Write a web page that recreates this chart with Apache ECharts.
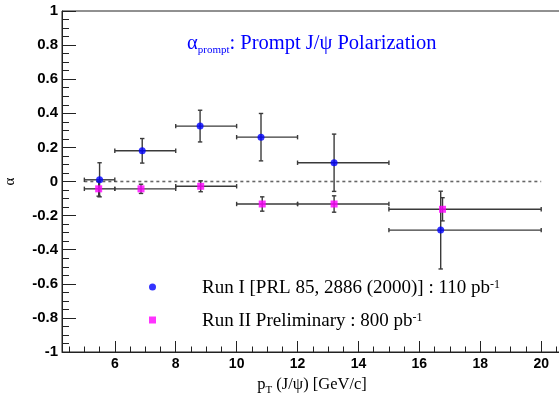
<!DOCTYPE html>
<html>
<head>
<meta charset="utf-8">
<script src="https://cdn.jsdelivr.net/npm/echarts@6/dist/echarts.min.js"></script>
<style>html,body{margin:0;padding:0;background:#fff;}#c{width:559px;height:394px;}</style>
</head>
<body>
<div id="c"></div>
<script>
// ---- data ----
const run1X    = [5.5, 6.9, 8.8, 10.8, 13.2, 16.7];
const run1XLo  = [5, 6, 8, 10, 12, 15];
const run1XHi  = [6, 8, 10, 12, 15, 20];
const run1Y    = [0.01, 0.18, 0.325, 0.26, 0.11, -0.285];
const run1Err  = [0.10, 0.072, 0.093, 0.139, 0.168, 0.228];

const run2X    = [5.47, 6.86, 8.82, 10.84, 13.2, 16.76];
const run2XLo  = [5, 6, 8, 10, 12, 15];
const run2XHi  = [6, 8, 10, 12, 15, 20];
const run2Y    = [-0.043, -0.043, -0.028, -0.132, -0.132, -0.163];
const run2Err  = [0.043, 0.027, 0.032, 0.042, 0.048, 0.068];

const zeroLineX = [5, 20];
const run1Name = 'Run I [PRL 85, 2886 (2000)] : 110 pb';
const run2Name = 'Run II Preliminary : 800 pb';
const supText = '-1';

const xMin = 4.266, xMax = 20.683;

function errRows(xs, lo, hi, ys, es) {
  return xs.map((x, i) => [lo[i], hi[i], x, ys[i], ys[i] - es[i], ys[i] + es[i]]);
}

function renderErr(params, api) {
  const xlo = api.value(0), xhi = api.value(1), x = api.value(2), y = api.value(3);
  const ylo = api.value(4), yhi = api.value(5);
  const pL = api.coord([xlo, y]), pR = api.coord([xhi, y]);
  const pB = api.coord([x, ylo]), pT = api.coord([x, yhi]);
  const c = 2.2;
  const st = { stroke: '#3a3a3a', lineWidth: 1.4 };
  const seg = (x1, y1, x2, y2) => ({ type: 'line', shape: { x1, y1, x2, y2 }, style: st });
  return {
    type: 'group',
    children: [
      seg(pL[0], pL[1], pR[0], pR[1]),
      seg(pL[0], pL[1] - c, pL[0], pL[1] + c),
      seg(pR[0], pR[1] - c, pR[0], pR[1] + c),
      seg(pB[0], pB[1], pT[0], pT[1]),
      seg(pB[0] - c, pB[1], pB[0] + c, pB[1]),
      seg(pT[0] - c, pT[1], pT[0] + c, pT[1])
    ]
  };
}

const chart = echarts.init(document.getElementById('c'), null, { renderer: 'canvas' });
const sansBold = { fontFamily: 'Liberation Sans', fontWeight: 'bold', fontSize: 14, color: '#000' };
const serif = 'Liberation Serif';

chart.setOption({
  animation: false,
  backgroundColor: '#fff',
  grid: { left: 62, top: 11, width: 500, height: 341, show: true, borderColor: '#222', borderWidth: 1, containLabel: false, outerBoundsMode: 'none' },
  title: {
    text: '{a|α}{sub|prompt}{a|: Prompt J/ψ Polarization}',
    left: 182, top: 28,
    textStyle: {
      fontWeight: 'normal',
      rich: {
        a: { fontFamily: serif, fontWeight: 'normal', fontSize: 20.5, color: '#0000ff', lineHeight: 23, verticalAlign: 'top' },
        sub: { fontFamily: serif, fontWeight: 'normal', fontSize: 11, color: '#0000ff', lineHeight: 11, padding: [12, 0, 0, 0], verticalAlign: 'top' }
      }
    }
  },
  legend: {
    orient: 'vertical', left: 144, top: 271, itemGap: 11,
    itemWidth: 7, itemHeight: 7,
    data: [run1Name, run2Name],
    formatter: n => '{t|' + n + '}{s|' + supText + '}',
    textStyle: {
      rich: {
        t: { fontFamily: serif, fontSize: 19, color: '#000', lineHeight: 22, padding: [3, 0, 0, 41], verticalAlign: 'top' },
        s: { fontFamily: serif, fontSize: 12, color: '#000', lineHeight: 12, padding: [3, 0, 0, 0], verticalAlign: 'top' }
      }
    }
  },
  xAxis: [
    {
      type: 'value', min: xMin, max: xMax, minInterval: 2, maxInterval: 2,
      splitLine: { show: false },
      axisLine: { show: true, onZero: false, lineStyle: { color: '#222', width: 1 } },
      axisTick: { show: true, inside: true, length: 11, lineStyle: { color: '#222' } },
      axisLabel: Object.assign({ margin: 5, formatter: v => (Math.abs(v - Math.round(v)) < 1e-6 && Math.round(v) % 2 === 0) ? String(Math.round(v)) : '' }, sansBold),
      name: '{p|p}{t|T}{p| (J/ψ) [GeV/c]}', nameLocation: 'middle', nameGap: 24,
      nameTextStyle: {
        rich: {
          p: { fontFamily: serif, fontSize: 16.5, color: '#000', lineHeight: 19, verticalAlign: 'top' },
          t: { fontFamily: serif, fontSize: 11, color: '#000', lineHeight: 11, padding: [9, 0, 0, 0], verticalAlign: 'top' }
        }
      }
    },
    {
      type: 'value', min: xMin, max: xMax, minInterval: 0.5, maxInterval: 0.5,
      position: 'bottom', splitLine: { show: false },
      axisLine: { show: false, onZero: false },
      axisTick: { show: true, inside: true, length: 5.5, lineStyle: { color: '#222' } },
      axisLabel: { show: false }
    }
  ],
  yAxis: {
    type: 'value', min: -1, max: 1, interval: 0.2,
    splitLine: { show: false },
    axisLine: { show: true, onZero: false, lineStyle: { color: '#222', width: 1 } },
    axisTick: { show: true, inside: true, length: 14, lineStyle: { color: '#222' } },
    minorTick: { show: true, splitNumber: 4, length: 7, lineStyle: { color: '#222' } },
    axisLabel: Object.assign({ margin: 4, formatter: v => String(Math.round(v * 10) / 10) }, sansBold, { fontSize: 15 }),
    name: 'α', nameLocation: 'middle', nameGap: 44, nameRotate: 90,
    nameTextStyle: { fontFamily: serif, fontSize: 15, color: '#000' }
  },
  series: [
    {
      type: 'line', data: zeroLineX.map(x => [x, 0]), symbol: 'none', silent: true,
      lineStyle: { color: '#666', width: 1.6, type: [3, 3] }, z: 1
    },
    {
      type: 'custom', renderItem: renderErr, data: errRows(run1X, run1XLo, run1XHi, run1Y, run1Err),
      encode: { x: [0, 1, 2], y: [3, 4, 5] }, z: 2, silent: true
    },
    {
      type: 'custom', renderItem: renderErr, data: errRows(run2X, run2XLo, run2XHi, run2Y, run2Err),
      encode: { x: [0, 1, 2], y: [3, 4, 5] }, z: 2, silent: true
    },
    {
      name: run1Name, type: 'scatter', symbol: 'circle', symbolSize: 7,
      itemStyle: { color: '#0000ff' }, data: run1X.map((x, i) => [x, run1Y[i]]), z: 3
    },
    {
      name: run2Name, type: 'scatter', symbol: 'rect', symbolSize: 7,
      itemStyle: { color: '#ff00ff' }, data: run2X.map((x, i) => [x, run2Y[i]]), z: 3
    }
  ]
});
</script>
</body>
</html>
